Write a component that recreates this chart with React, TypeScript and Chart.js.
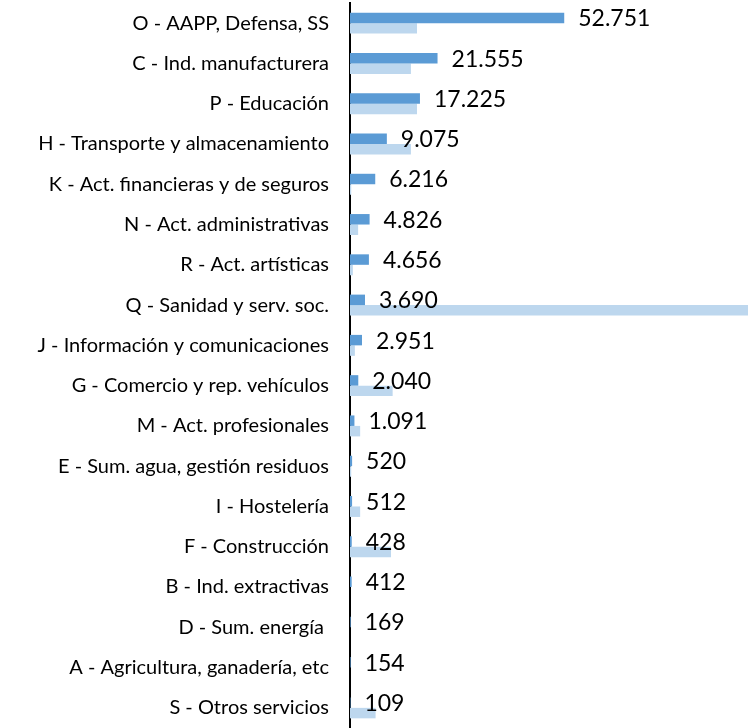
import React, { useEffect, useRef } from "react";
import { Chart, registerables } from "chart.js";

Chart.register(...registerables);

const categories: string[] = [
  "O - AAPP, Defensa, SS",
  "C - Ind. manufacturera",
  "P - Educación",
  "H - Transporte y almacenamiento",
  "K - Act. financieras y de seguros",
  "N - Act. administrativas",
  "R - Act. artísticas",
  "Q - Sanidad y serv. soc.",
  "J - Información y comunicaciones",
  "G - Comercio y rep. vehículos",
  "M - Act. profesionales",
  "E - Sum. agua, gestión residuos",
  "I - Hostelería",
  "F - Construcción",
  "B - Ind. extractivas",
  "D - Sum. energía ",
  "A - Agricultura, ganadería, etc",
  "S - Otros servicios",
];

const seriesMain: number[] = [
  52751, 21555, 17225, 9075, 6216, 4826, 4656, 3690, 2951, 2040, 1091, 520, 512, 428, 412, 169, 154, 109,
];

const seriesSecondary: number[] = [
  16500, 15000, 16500, 15000, 300, 2000, 700, 110000, 1200, 10500, 2500, 300, 2500, 10100, 0, 0, 0, 6300,
];

const axisMax = 98000;

const formatEs = (v: number): string =>
  v.toString().replace(/\B(?=(\d{3})+(?!\d))/g, ".");

const valueLabels = {
  id: "valueLabels",
  afterDatasetsDraw(chart: any) {
    const ctx = chart.ctx;
    const meta = chart.getDatasetMeta(0);
    ctx.save();
    ctx.font = "23px Lato";
    ctx.fillStyle = "#000000";
    ctx.textAlign = "left";
    ctx.textBaseline = "middle";
    meta.data.forEach((el: any, i: number) => {
      ctx.fillText(formatEs(seriesMain[i]), el.x + 14, el.y + 1);
    });
    ctx.restore();
  },
};

export default function App() {
  const canvasRef = useRef<HTMLCanvasElement | null>(null);

  useEffect(() => {
    if (!canvasRef.current) return;
    const chart = new Chart(canvasRef.current, {
      type: "bar",
      data: {
        labels: categories,
        datasets: [
          {
            label: "Serie 1",
            data: seriesMain,
            backgroundColor: "#5B9BD5",
            borderWidth: 0,
            categoryPercentage: 0.52,
            barPercentage: 1.0,
          },
          {
            label: "Serie 2",
            data: seriesSecondary,
            backgroundColor: "#BDD7EE",
            borderWidth: 0,
            categoryPercentage: 0.52,
            barPercentage: 1.0,
          },
        ],
      },
      options: {
        indexAxis: "y",
        animation: false,
        responsive: true,
        maintainAspectRatio: false,
        layout: { padding: { top: 3, right: 0, bottom: -3, left: 0 } },
        plugins: {
          legend: { display: false },
          tooltip: { enabled: false },
        },
        scales: {
          x: {
            display: false,
            min: 0,
            max: axisMax,
          },
          y: {
            grid: { display: false, drawTicks: false },
            border: { display: true, color: "#000000", width: 2 },
            ticks: {
              color: "#000000",
              font: { family: "Lato", size: 20 },
              padding: 21,
              autoSkip: false,
            },
            afterFit: (scale: any) => {
              scale.width = 350;
              scale.paddingTop = 0;
              scale.paddingBottom = 0;
            },
          },
        },
      },
      plugins: [valueLabels],
    });
    return () => chart.destroy();
  }, []);

  return (
    <div style={{ position: "absolute", left: 0, top: 0, width: 748, height: 728, background: "#ffffff" }}>
      <canvas ref={canvasRef} />
    </div>
  );
}
